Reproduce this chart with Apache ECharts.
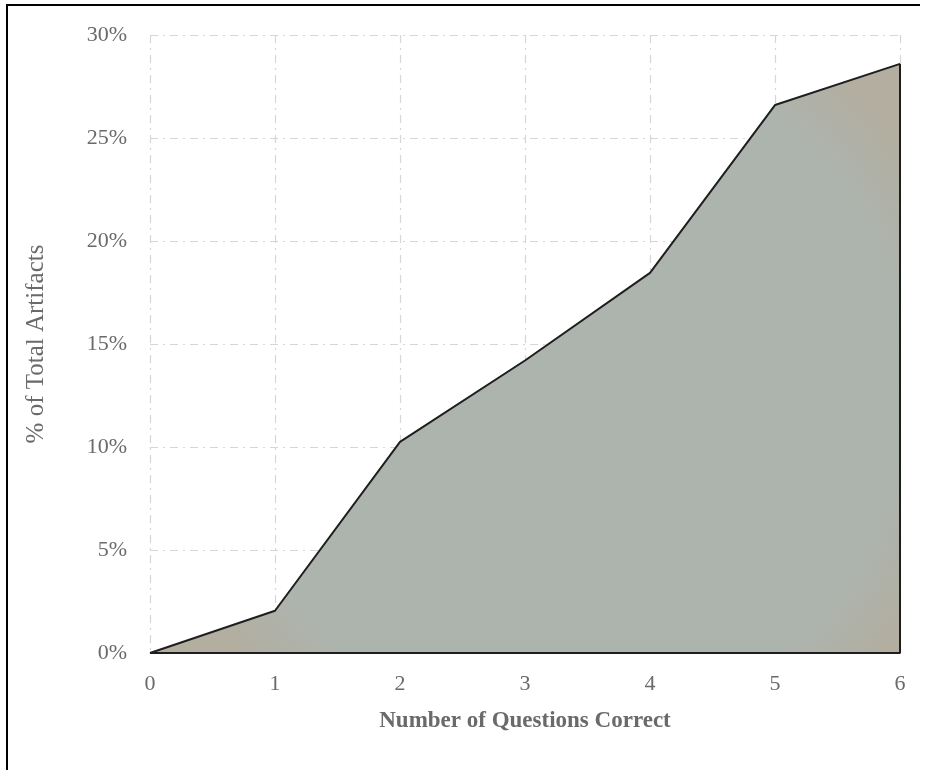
<!DOCTYPE html>
<html>
<head>
<meta charset="utf-8">
<script src="https://cdn.jsdelivr.net/npm/echarts@6/dist/echarts.min.js"></script>
<style>html,body{margin:0;padding:0;background:#fff}#c{width:925px;height:770px}</style>
</head>
<body>
<div id="c"></div>
<script>
const questionsCorrect = [0, 1, 2, 3, 4, 5, 6];
const pctArtifacts = [0, 2.05, 10.25, 14.2, 18.45, 26.6, 28.6];
const yTicks = [0, 5, 10, 15, 20, 25, 30];
const xName = 'Number of Questions Correct';
const yName = '% of Total Artifacts';

const FONT = '"Liberation Serif", "DejaVu Serif", serif';
const pts = questionsCorrect.map((x, i) => [x, pctArtifacts[i]]);
const last = pts[pts.length - 1];
const closing = [last, [last[0], 0], [questionsCorrect[0], 0]];

const grid = { color: '#d6d6d6', width: 1.2, type: [8, 5, 2, 5] };

const chart = echarts.init(document.getElementById('c'));
chart.setOption({
  animation: false,
  backgroundColor: '#fff',
  grid: { left: 150, right: 25, top: 35, bottom: 117 },
  xAxis: {
    type: 'value', min: 0, max: 6, interval: 1,
    name: xName, nameLocation: 'middle', nameGap: 57,
    nameTextStyle: { fontFamily: FONT, fontSize: 23, fontWeight: 'bold', color: '#6a6a6a' },
    axisLine: { show: false }, axisTick: { show: false },
    axisLabel: { fontFamily: FONT, fontSize: 22, color: '#6a6a6a', margin: 20 },
    splitLine: { show: true, lineStyle: grid }
  },
  yAxis: {
    type: 'value', min: yTicks[0], max: yTicks[yTicks.length - 1], interval: 5,
    name: yName, nameLocation: 'middle', nameGap: 101,
    nameTextStyle: { fontFamily: FONT, fontSize: 25, color: '#6a6a6a' },
    axisLine: { show: false }, axisTick: { show: false },
    axisLabel: { fontFamily: FONT, fontSize: 22, color: '#6a6a6a', margin: 23, formatter: '{value}%' },
    splitLine: { show: true, lineStyle: grid }
  },
  series: [
    {
      type: 'line', data: pts, symbol: 'none',
      lineStyle: { color: '#1e1e1e', width: 2 },
      areaStyle: {
        opacity: 1,
        color: {
          type: 'radial', x: 0.55, y: 0.55, r: 0.72,
          colorStops: [
            { offset: 0, color: '#adb4ae' },
            { offset: 0.8, color: '#adb4ae' },
            { offset: 1, color: '#b3ae9f' }
          ]
        }
      },
      z: 2
    },
    {
      type: 'line', data: closing, symbol: 'none',
      lineStyle: { color: '#1e1e1e', width: 2 },
      z: 3
    }
  ],
  graphic: [
    {
      type: 'polyline',
      shape: { points: [[7, 770], [7, 5], [920, 5]] },
      style: { stroke: '#000', lineWidth: 2, fill: null },
      z: 10
    }
  ]
});
</script>
</body>
</html>
